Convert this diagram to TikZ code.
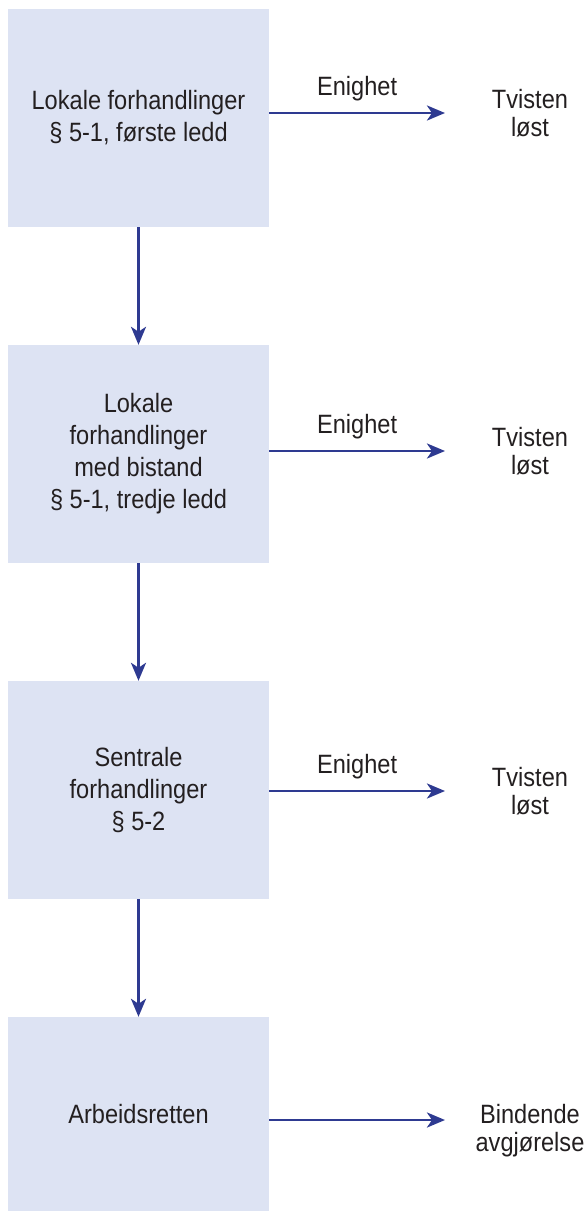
\documentclass[tikz,border=0pt]{standalone}
\usepackage{fontspec}
\setmainfont{Liberation Sans}[FakeStretch=0.89]
\usetikzlibrary{arrows.meta,positioning}
\definecolor{boksfarge}{RGB}{221,227,243}
\definecolor{pilfarge}{RGB}{46,58,145}
\definecolor{tekstfarge}{RGB}{35,31,32}
\tikzset{
  boks/.style={fill=boksfarge,draw=none,minimum width=261pt,inner sep=0pt,
    align=center,text=tekstfarge,font=\fontsize{26.5}{32}\selectfont},
  utfall/.style={align=center,text=tekstfarge,inner sep=0pt,
    font=\fontsize{26.5}{28}\selectfont},
  pil/.style={draw=pilfarge,line width=2.8pt,
    -{Stealth[length=18pt,width=15pt,inset=5pt]}},
  enig/.style={midway,above=10.5pt,inner sep=0pt,text=tekstfarge,
    font=\fontsize{26.5}{32}\selectfont}
}
\begin{document}
\begin{tikzpicture}[x=1pt,y=1pt,yscale=-1,xscale=1]
\useasboundingbox (0,0) rectangle (587,1211);

%Rect
\node [boks,minimum height=218pt] (lokal) at (138.5,118) {Lokale forhandlinger\\\S\ 5-1, første ledd};
%Rect
\node [boks,minimum height=218pt] (bistand) at (138.5,454) {Lokale\\forhandlinger\\med bistand\\\S\ 5-1, tredje ledd};
%Rect
\node [boks,minimum height=218pt] (sentral) at (138.5,790) {Sentrale\\forhandlinger\\\S\ 5-2};
%Rect
\node [boks,minimum height=194pt] (arbeid) at (138.5,1114) {Arbeidsretten};

% Text Node
\node [utfall] (losA) at (530,113) {Tvisten\\løst};
% Text Node
\node [utfall] (losB) at (530,451) {Tvisten\\løst};
% Text Node
\node [utfall] (losC) at (530,791) {Tvisten\\løst};
% Text Node
\node [utfall] (bind) at (530,1131) {Bindende\\avgjørelse};

\coordinate (endeA) at (445,113);
\coordinate (endeB) at (445,451);
\coordinate (endeC) at (445,791);
\coordinate (endeD) at (445,1120);

%Straight Lines
\draw [pil] (lokal.south) -- (bistand.north);
\draw [pil] (bistand.south) -- (sentral.north);
\draw [pil] (sentral.south) -- (arbeid.north);

%Straight Lines
\draw [pil] (lokal.east |- endeA) -- (endeA) node [enig] {Enighet};
\draw [pil] (bistand.east |- endeB) -- (endeB) node [enig] {Enighet};
\draw [pil] (sentral.east |- endeC) -- (endeC) node [enig] {Enighet};
\draw [pil] (arbeid.east |- endeD) -- (endeD);

\end{tikzpicture}
\end{document}
